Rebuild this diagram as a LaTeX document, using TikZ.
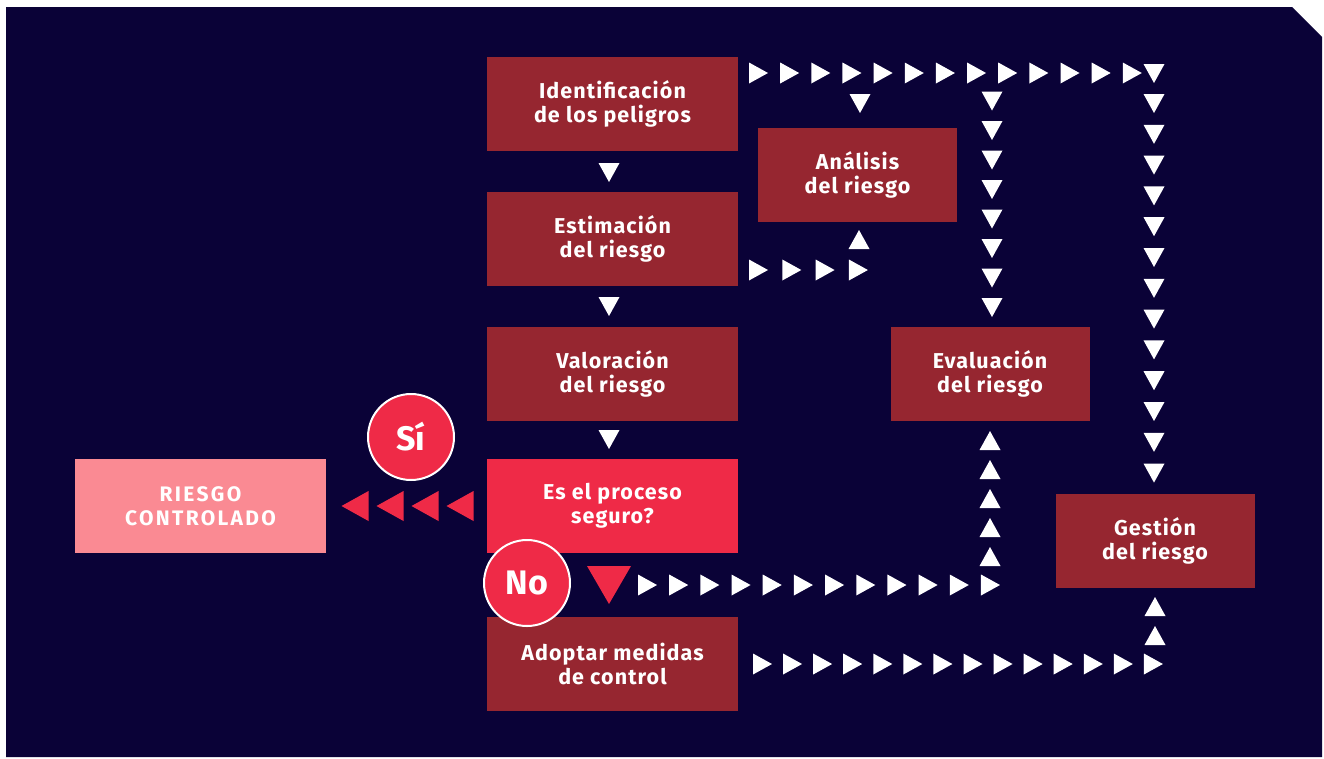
\documentclass[tikz,border=0pt]{standalone}
\usepackage{fontspec}
\setmainfont{Fira Sans}
\newfontfamily\boxfont{Fira Sans}[LetterSpace=5]
\newfontfamily\ctrlfont{Fira Sans}[LetterSpace=11]
\definecolor{navy}{HTML}{0A0237}
\definecolor{dred}{HTML}{962630}
\definecolor{bred}{HTML}{EF2A47}
\definecolor{pinkc}{HTML}{FA8A93}
\tikzset{
  box/.style={fill=dred, minimum width=251pt, minimum height=94pt, inner sep=0pt,
    text=white, align=center, font=\boxfont\fontsize{21.5}{24}\selectfont\bfseries},
  sbox/.style={box, minimum width=199pt},
  circ/.style={circle, fill=bred, draw=white, line width=2pt, minimum size=86pt, inner sep=0pt,
    text=white, font=\fontsize{34}{36}\selectfont\bfseries},
  rt/.pic={\fill[white] (-9,-10.5) -- (10,0) -- (-9,10.5) -- cycle;},
  dt/.pic={\fill[white] (-10.5,-9) -- (10.5,-9) -- (0,10) -- cycle;},
  ut/.pic={\fill[white] (-10.5,9) -- (10.5,9) -- (0,-10) -- cycle;},
  lt/.pic={\fill[bred] (13.5,-15) -- (-13.5,0) -- (13.5,15) -- cycle;},
}
\begin{document}
\begin{tikzpicture}[x={(1pt,0)}, y={(0,-1pt)}]
\useasboundingbox (0,0) rectangle (1324,758);
\fill[white] (0,0) rectangle (1324,758);
\fill[navy] (6,7) -- (1292,7) -- (1322,37) -- (1322,757) -- (6,757) -- cycle;

% boxes
\node[box] (ident) at (612.5,104) {Identificación\\de los peligros};
\node[box] (estim) at (612.5,239) {Estimación\\del riesgo};
\node[box] (valor) at (612.5,374) {Valoración\\del riesgo};
\node[box, fill=bred] (seguro) at (612.5,506) {Es el proceso\\seguro?};
\node[box] (adopt) at (612.5,664) {Adoptar medidas\\de control};
\node[sbox] (anal) at (857.5,175) {Análisis\\del riesgo};
\node[sbox] (eval) at (990,374) {Evaluación\\del riesgo};
\node[sbox] (gest) at (1155,541) {Gestión\\del riesgo};
\node[box, fill=pinkc, font=\ctrlfont\fontsize{21}{24}\selectfont\bfseries] (contr) at (200.5,506) {RIESGO\\CONTROLADO};

\node[circ] (si) at (411,437) {Sí};
\node[circ] (no) at (527,583) {No};

% top row
\foreach \i in {0,...,12} \pic at ({758+31.15*\i},73) {rt};
\pic at (1154,73) {dt};
\foreach \yy in {103,133.8,...,474} \pic at (1154,\yy) {dt};
\pic at (860,103) {dt};
\foreach \i in {0,...,7} \pic at (992,{100.5+29.5*\i}) {dt};

% estim row
\foreach \i in {0,...,3} \pic at ({758+33.3*\i},270) {rt};
\pic at (859,240) {ut};

% main column
\foreach \yy in {172,306,439} \pic at (609,\yy) {dt};

% red left arrows
\foreach \xx in {355,390,425,460} \pic at (\xx,506) {lt};
\fill[bred] (587,566) -- (631,566) -- (609,604) -- cycle;

% row to evaluation
\foreach \i in {0,...,11} \pic at ({647+31.18*\i},585) {rt};
\foreach \i in {0,...,4} \pic at (990,{557-29*\i}) {ut};

% bottom row
\foreach \i in {0,...,13} \pic at ({762+30.07*\i},664) {rt};
\pic at (1155,607) {ut};
\pic at (1155,636) {ut};
\end{tikzpicture}
\end{document}
